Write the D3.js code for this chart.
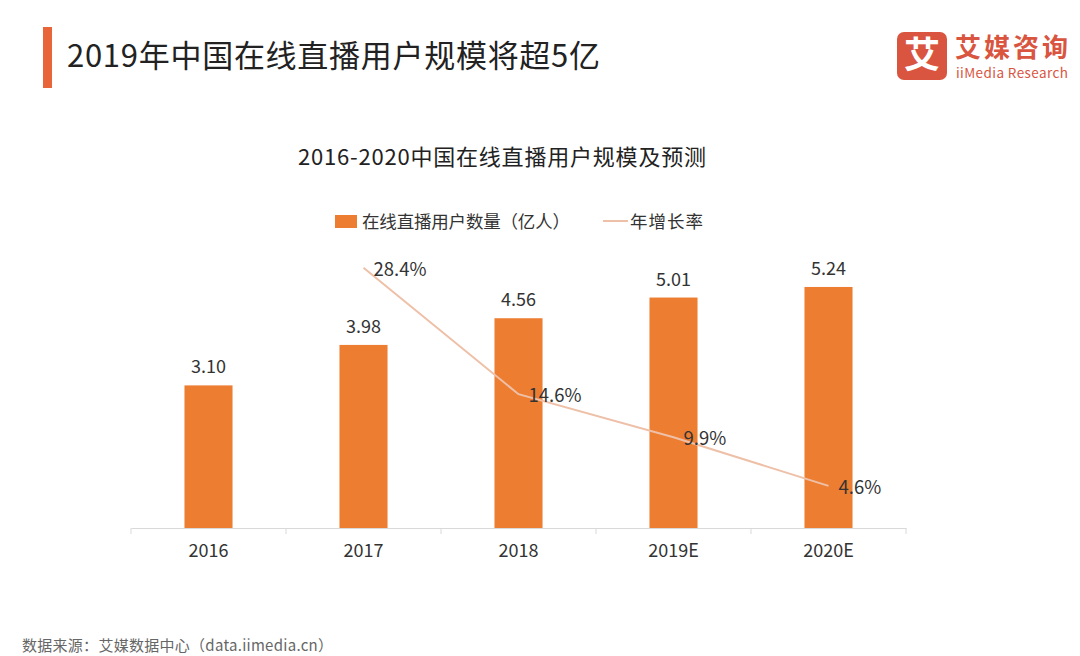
<!DOCTYPE html>
<html><head><meta charset="utf-8">
<script src="https://cdn.jsdelivr.net/npm/d3@7"></script>
<style>
html,body{margin:0;padding:0;background:#fff;}
svg{display:block;font-family:"Noto Sans CJK SC","Noto Sans",sans-serif;}
</style></head>
<body>
<svg id="c" width="1080" height="656"></svg>
<script>
const categories = ["2016","2017","2018","2019E","2020E"];
const users = [3.10, 3.98, 4.56, 5.01, 5.24];
const userLabels = ["3.10","3.98","4.56","5.01","5.24"];
const growthYears = ["2017","2018","2019E","2020E"];
const growth = [28.4, 14.6, 9.9, 4.6];
const growthLabels = ["28.4%","14.6%","9.9%","4.6%"];

const svg = d3.select("#c");
const font = '"Noto Sans CJK SC","Noto Sans",sans-serif';

// header
svg.append("rect").attr("x",43).attr("y",27).attr("width",9).attr("height",61).attr("fill","#e8653a");
svg.append("text").attr("x",67).attr("y",67).attr("font-size",31).attr("fill","#222").attr("textLength",533)
  .text("2019年中国在线直播用户规模将超5亿");

// logo
svg.append("rect").attr("x",897).attr("y",32).attr("width",50).attr("height",48).attr("rx",7).attr("fill","#d9553f");
svg.append("text").attr("x",922).attr("y",68).attr("text-anchor","middle").attr("font-size",36).attr("font-weight","bold").attr("fill","#fff").text("艾");
svg.append("text").attr("x",955).attr("y",57).attr("font-size",26).attr("font-weight","bold").attr("fill","#d9553f").attr("textLength",113).text("艾媒咨询");
svg.append("text").attr("x",956).attr("y",78).attr("font-size",13.5).attr("fill","#d9553f").attr("textLength",112).text("iiMedia Research");

// chart title
svg.append("text").attr("x",502).attr("y",165).attr("text-anchor","middle").attr("font-size",22).attr("fill","#222").attr("textLength",408)
  .text("2016-2020中国在线直播用户规模及预测");

// legend
svg.append("rect").attr("x",335).attr("y",215).attr("width",22).attr("height",13).attr("fill","#ed7d31");
svg.append("text").attr("x",362).attr("y",228).attr("font-size",17.5).attr("fill","#333").attr("textLength",208).text("在线直播用户数量（亿人）");
svg.append("line").attr("x1",603).attr("x2",628).attr("y1",221).attr("y2",221).attr("stroke","#eec0a8").attr("stroke-width",2);
svg.append("text").attr("x",630).attr("y",228).attr("font-size",17.5).attr("fill","#333").attr("textLength",73).text("年增长率");

// scales
const x = d3.scaleBand().domain(categories).range([131,906]).paddingInner(0.69).paddingOuter(0.345);
const y = d3.scaleLinear().domain([0,6]).range([528,252]);
const y2 = d3.scaleLinear().domain([0,30]).range([528,253]);

const xAxis = d3.axisBottom(x).tickSize(0).tickPadding(16).tickFormat(d=>d);
const gx = svg.append("g").attr("transform","translate(0,528)").call(xAxis);
gx.select(".domain").attr("stroke","#d9d9d9");
gx.selectAll("text").attr("font-size",18).attr("fill","#333").attr("font-family",font);
// category boundary ticks
const bounds = d3.range(categories.length+1).map(i => x.range()[0] + i*(x.range()[1]-x.range()[0])/categories.length);
gx.selectAll(".bt").data(bounds).enter().append("line")
  .attr("x1",d=>d).attr("x2",d=>d).attr("y1",0).attr("y2",6).attr("stroke","#d9d9d9");

// bars
svg.selectAll(".bar").data(users).enter().append("rect")
  .attr("x",(d,i)=>x(categories[i])).attr("width",x.bandwidth())
  .attr("y",d=>y(d)).attr("height",d=>y(0)-y(d)).attr("fill","#ed7d31");
svg.selectAll(".bl").data(users).enter().append("text")
  .attr("x",(d,i)=>x(categories[i])+x.bandwidth()/2).attr("y",d=>y(d)-12)
  .attr("text-anchor","middle").attr("font-size",18).attr("fill","#333").text((d,i)=>userLabels[i]);

// line
const cx = c => x(c)+x.bandwidth()/2;
const line = d3.line().x((d,i)=>cx(growthYears[i])).y(d=>y2(d));
svg.append("path").datum(growth).attr("d",line).attr("fill","none").attr("stroke","#eec0a8").attr("stroke-width",2);
svg.selectAll(".gl").data(growth).enter().append("text")
  .attr("x",(d,i)=>cx(growthYears[i])+10).attr("y",d=>y2(d)+8)
  .attr("font-size",18.5).attr("fill","#333").text((d,i)=>growthLabels[i]);

// source
svg.append("text").attr("x",22).attr("y",651).attr("font-size",15).attr("fill","#666").attr("textLength",311)
  .text("数据来源：艾媒数据中心（data.iimedia.cn）");
</script>
</body></html>
